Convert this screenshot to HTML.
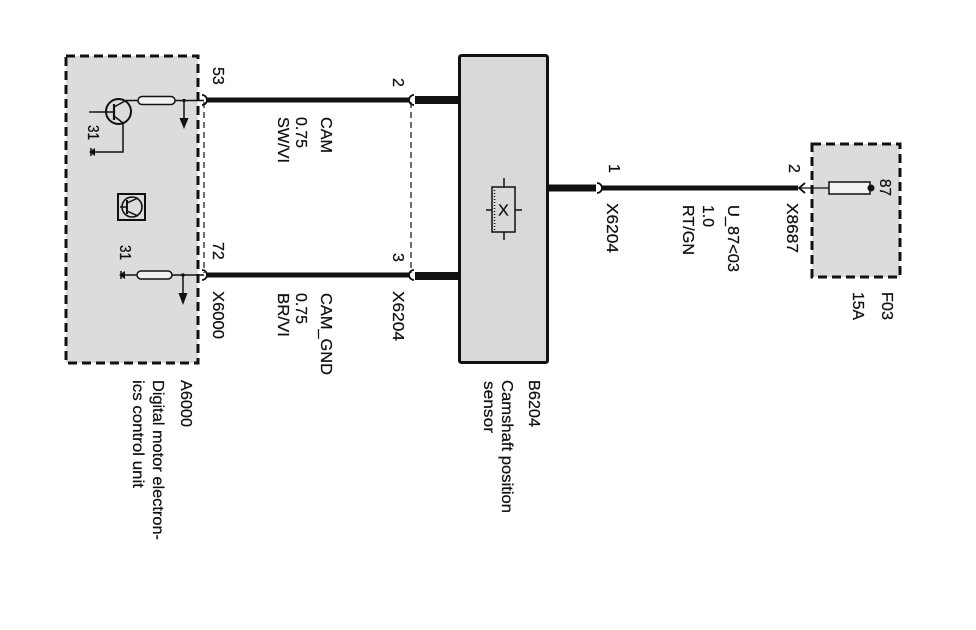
<!DOCTYPE html>
<html>
<head>
<meta charset="utf-8">
<style>
  html,body{margin:0;padding:0;background:#fff;}
  svg{display:block;}
  text{font-family:"Liberation Sans",Arial,sans-serif;font-size:16px;fill:#111;stroke:#111;stroke-width:0.25px;}
</style>
</head>
<body>
<svg width="976" height="630" viewBox="0 0 976 630" xmlns="http://www.w3.org/2000/svg">
  <rect x="0" y="0" width="976" height="630" fill="#fff"/>

  <!-- A6000 dashed box -->
  <rect x="66" y="56" width="132" height="307" fill="#dcdcdc" stroke="#111" stroke-width="3" stroke-dasharray="9 5"/>

  <!-- B6204 solid box -->
  <rect x="459.5" y="55.5" width="88" height="307" rx="2" fill="#d9d9d9" stroke="#111" stroke-width="3"/>

  <!-- F03 dashed box -->
  <rect x="812" y="144" width="88" height="133" fill="#dcdcdc" stroke="#111" stroke-width="3" stroke-dasharray="9 5"/>

  <!-- Shield dashed lines -->
  <line x1="204" y1="102" x2="204" y2="273" stroke="#111" stroke-width="1.2" stroke-dasharray="6 4"/>
  <line x1="411" y1="102" x2="411" y2="273" stroke="#111" stroke-width="1.2" stroke-dasharray="6 4"/>

  <!-- Top wire (53 -> 2) -->
  <line x1="206" y1="100" x2="409" y2="100" stroke="#111" stroke-width="5"/>
  <line x1="415" y1="100" x2="459" y2="100" stroke="#111" stroke-width="8"/>
  <path d="M202 95 A5 5 0 0 1 202 105" fill="none" stroke="#111" stroke-width="1.8"/>
  <path d="M414 95 A5 5 0 0 0 414 105" fill="none" stroke="#111" stroke-width="1.8"/>

  <!-- Bottom wire (72 -> 3) -->
  <line x1="206" y1="275" x2="409" y2="275" stroke="#111" stroke-width="5"/>
  <line x1="415" y1="276" x2="459" y2="276" stroke="#111" stroke-width="8"/>
  <path d="M202 270 A5 5 0 0 1 202 280" fill="none" stroke="#111" stroke-width="1.8"/>
  <path d="M414 270 A5 5 0 0 0 414 280" fill="none" stroke="#111" stroke-width="1.8"/>

  <!-- Right wire B6204 -> X6204 -> X8687 -->
  <line x1="548" y1="188" x2="596" y2="188" stroke="#111" stroke-width="7"/>
  <path d="M597 183 A5 5 0 0 1 597 193" fill="none" stroke="#111" stroke-width="1.8"/>
  <line x1="601" y1="188" x2="798" y2="188" stroke="#111" stroke-width="5"/>
  <path d="M805 183 L799 188 L805 193" fill="none" stroke="#111" stroke-width="1.8"/>
  <line x1="800" y1="188" x2="872" y2="188" stroke="#111" stroke-width="1.3"/>

  <!-- Fuse -->
  <rect x="829" y="182" width="41" height="12" fill="#f2f2f2" stroke="#111" stroke-width="1.5"/>
  <circle cx="871" cy="188" r="3.5" fill="#111"/>

  <!-- Top transistor -->
  <circle cx="118.5" cy="111.5" r="12.5" fill="none" stroke="#111" stroke-width="2"/>
  <line x1="89" y1="112" x2="114" y2="112" stroke="#111" stroke-width="1.5"/>
  <line x1="114" y1="104" x2="114" y2="120" stroke="#111" stroke-width="2.2"/>
  <line x1="114" y1="107" x2="126" y2="100.5" stroke="#111" stroke-width="1.5"/>
  <line x1="126" y1="100.5" x2="138" y2="100.5" stroke="#111" stroke-width="1.5"/>
  <line x1="114" y1="116" x2="123" y2="123" stroke="#111" stroke-width="1.5"/>
  <polyline points="123,123 123,152 93,152" fill="none" stroke="#111" stroke-width="1.5"/>
  <polygon points="89,152 95,148 95,156" fill="#111"/>
  <line x1="91" y1="148" x2="91" y2="156" stroke="#111" stroke-width="1.5"/>

  <!-- Top resistor & ground arrow -->
  <rect x="138" y="96.5" width="37" height="8" rx="4" fill="#f2f2f2" stroke="#111" stroke-width="1.5"/>
  <line x1="175" y1="100.5" x2="204" y2="100.5" stroke="#111" stroke-width="1.5"/>
  <circle cx="184" cy="100.5" r="1.8" fill="#111"/>
  <line x1="184" y1="100" x2="184" y2="119" stroke="#111" stroke-width="1.5"/>
  <polygon points="179.5,118 188.5,118 184,129" fill="#111"/>

  <!-- Center symbol -->
  <rect x="118" y="194" width="27" height="26" fill="none" stroke="#111" stroke-width="2"/>
  <circle cx="132" cy="207" r="10" fill="none" stroke="#111" stroke-width="1.6"/>
  <line x1="120" y1="207" x2="127" y2="207" stroke="#111" stroke-width="1.5"/>
  <line x1="127" y1="200" x2="127" y2="214" stroke="#111" stroke-width="2"/>
  <line x1="127" y1="203" x2="138" y2="198" stroke="#111" stroke-width="1.5"/>
  <line x1="127" y1="211" x2="138" y2="216" stroke="#111" stroke-width="1.5"/>

  <!-- Bottom resistor & ground arrow -->
  <polygon points="119,275 125,271 125,279" fill="#111"/>
  <line x1="121" y1="271" x2="121" y2="279" stroke="#111" stroke-width="1.5"/>
  <line x1="123" y1="275" x2="137" y2="275" stroke="#111" stroke-width="1.5"/>
  <rect x="137" y="271" width="35" height="8" rx="4" fill="#f2f2f2" stroke="#111" stroke-width="1.5"/>
  <line x1="172" y1="275" x2="204" y2="275" stroke="#111" stroke-width="1.5"/>
  <circle cx="183" cy="275" r="1.8" fill="#111"/>
  <line x1="183" y1="275" x2="183" y2="294" stroke="#111" stroke-width="1.5"/>
  <polygon points="178.5,293 187.5,293 183,305" fill="#111"/>

  <!-- B6204 inner symbol -->
  <rect x="492" y="187" width="23" height="45" fill="none" stroke="#111" stroke-width="1.5"/>
  <line x1="494.5" y1="190" x2="494.5" y2="230" stroke="#111" stroke-width="1.5" stroke-dasharray="1 2"/>
  <line x1="504" y1="178" x2="504" y2="187" stroke="#111" stroke-width="1.5"/>
  <line x1="504" y1="232" x2="504" y2="240" stroke="#111" stroke-width="1.5"/>
  <line x1="486" y1="210" x2="492" y2="210" stroke="#111" stroke-width="1.5"/>
  <line x1="515" y1="210" x2="522" y2="210" stroke="#111" stroke-width="1.5"/>
  <text x="503.5" y="215.5" text-anchor="middle" style="font-size:16px">X</text>

  <!-- Rotated labels -->
  <text transform="translate(213,67) rotate(90)">53</text>
  <text transform="translate(213,242) rotate(90)">72</text>
  <text transform="translate(213,291) rotate(90)" textLength="48" lengthAdjust="spacingAndGlyphs">X6000</text>

  <text transform="translate(393,78) rotate(90)">2</text>
  <text transform="translate(393,253) rotate(90)">3</text>
  <text transform="translate(393,291) rotate(90)" textLength="50" lengthAdjust="spacingAndGlyphs">X6204</text>

  <text transform="translate(321,117) rotate(90)" textLength="36" lengthAdjust="spacingAndGlyphs">CAM</text>
  <text transform="translate(296,117) rotate(90)" textLength="31" lengthAdjust="spacingAndGlyphs">0.75</text>
  <text transform="translate(278,117) rotate(90)" textLength="46" lengthAdjust="spacingAndGlyphs">SW/VI</text>

  <text transform="translate(321,293) rotate(90)" textLength="82" lengthAdjust="spacingAndGlyphs">CAM_GND</text>
  <text transform="translate(296,293) rotate(90)" textLength="31" lengthAdjust="spacingAndGlyphs">0.75</text>
  <text transform="translate(278,293) rotate(90)" textLength="44" lengthAdjust="spacingAndGlyphs">BR/VI</text>

  <text transform="translate(88,125) rotate(90)" textLength="15" lengthAdjust="spacingAndGlyphs">31</text>
  <text transform="translate(120,245) rotate(90)" textLength="15" lengthAdjust="spacingAndGlyphs">31</text>

  <text transform="translate(181,380) rotate(90)" textLength="47" lengthAdjust="spacingAndGlyphs">A6000</text>
  <text transform="translate(153,380) rotate(90)" textLength="160" lengthAdjust="spacingAndGlyphs">Digital motor electron-</text>
  <text transform="translate(133,380) rotate(90)" textLength="108" lengthAdjust="spacingAndGlyphs">ics control unit</text>

  <text transform="translate(529,380) rotate(90)" textLength="47" lengthAdjust="spacingAndGlyphs">B6204</text>
  <text transform="translate(502,380) rotate(90)" textLength="133" lengthAdjust="spacingAndGlyphs">Camshaft position</text>
  <text transform="translate(484,381) rotate(90)" textLength="52" lengthAdjust="spacingAndGlyphs">sensor</text>

  <text transform="translate(609,164) rotate(90)">1</text>
  <text transform="translate(607,203) rotate(90)" textLength="50" lengthAdjust="spacingAndGlyphs">X6204</text>

  <text transform="translate(728,205) rotate(90)" textLength="67" lengthAdjust="spacingAndGlyphs">U_87&lt;03</text>
  <text transform="translate(703,205) rotate(90)" textLength="22" lengthAdjust="spacingAndGlyphs">1.0</text>
  <text transform="translate(683,205) rotate(90)" textLength="50" lengthAdjust="spacingAndGlyphs">RT/GN</text>

  <text transform="translate(789,164) rotate(90)">2</text>
  <text transform="translate(787,203) rotate(90)" textLength="50" lengthAdjust="spacingAndGlyphs">X8687</text>

  <text transform="translate(880,179) rotate(90)" textLength="17" lengthAdjust="spacingAndGlyphs">87</text>
  <text transform="translate(882,292) rotate(90)" textLength="28" lengthAdjust="spacingAndGlyphs">F03</text>
  <text transform="translate(853,292) rotate(90)" textLength="28" lengthAdjust="spacingAndGlyphs">15A</text>
</svg>
</body>
</html>
